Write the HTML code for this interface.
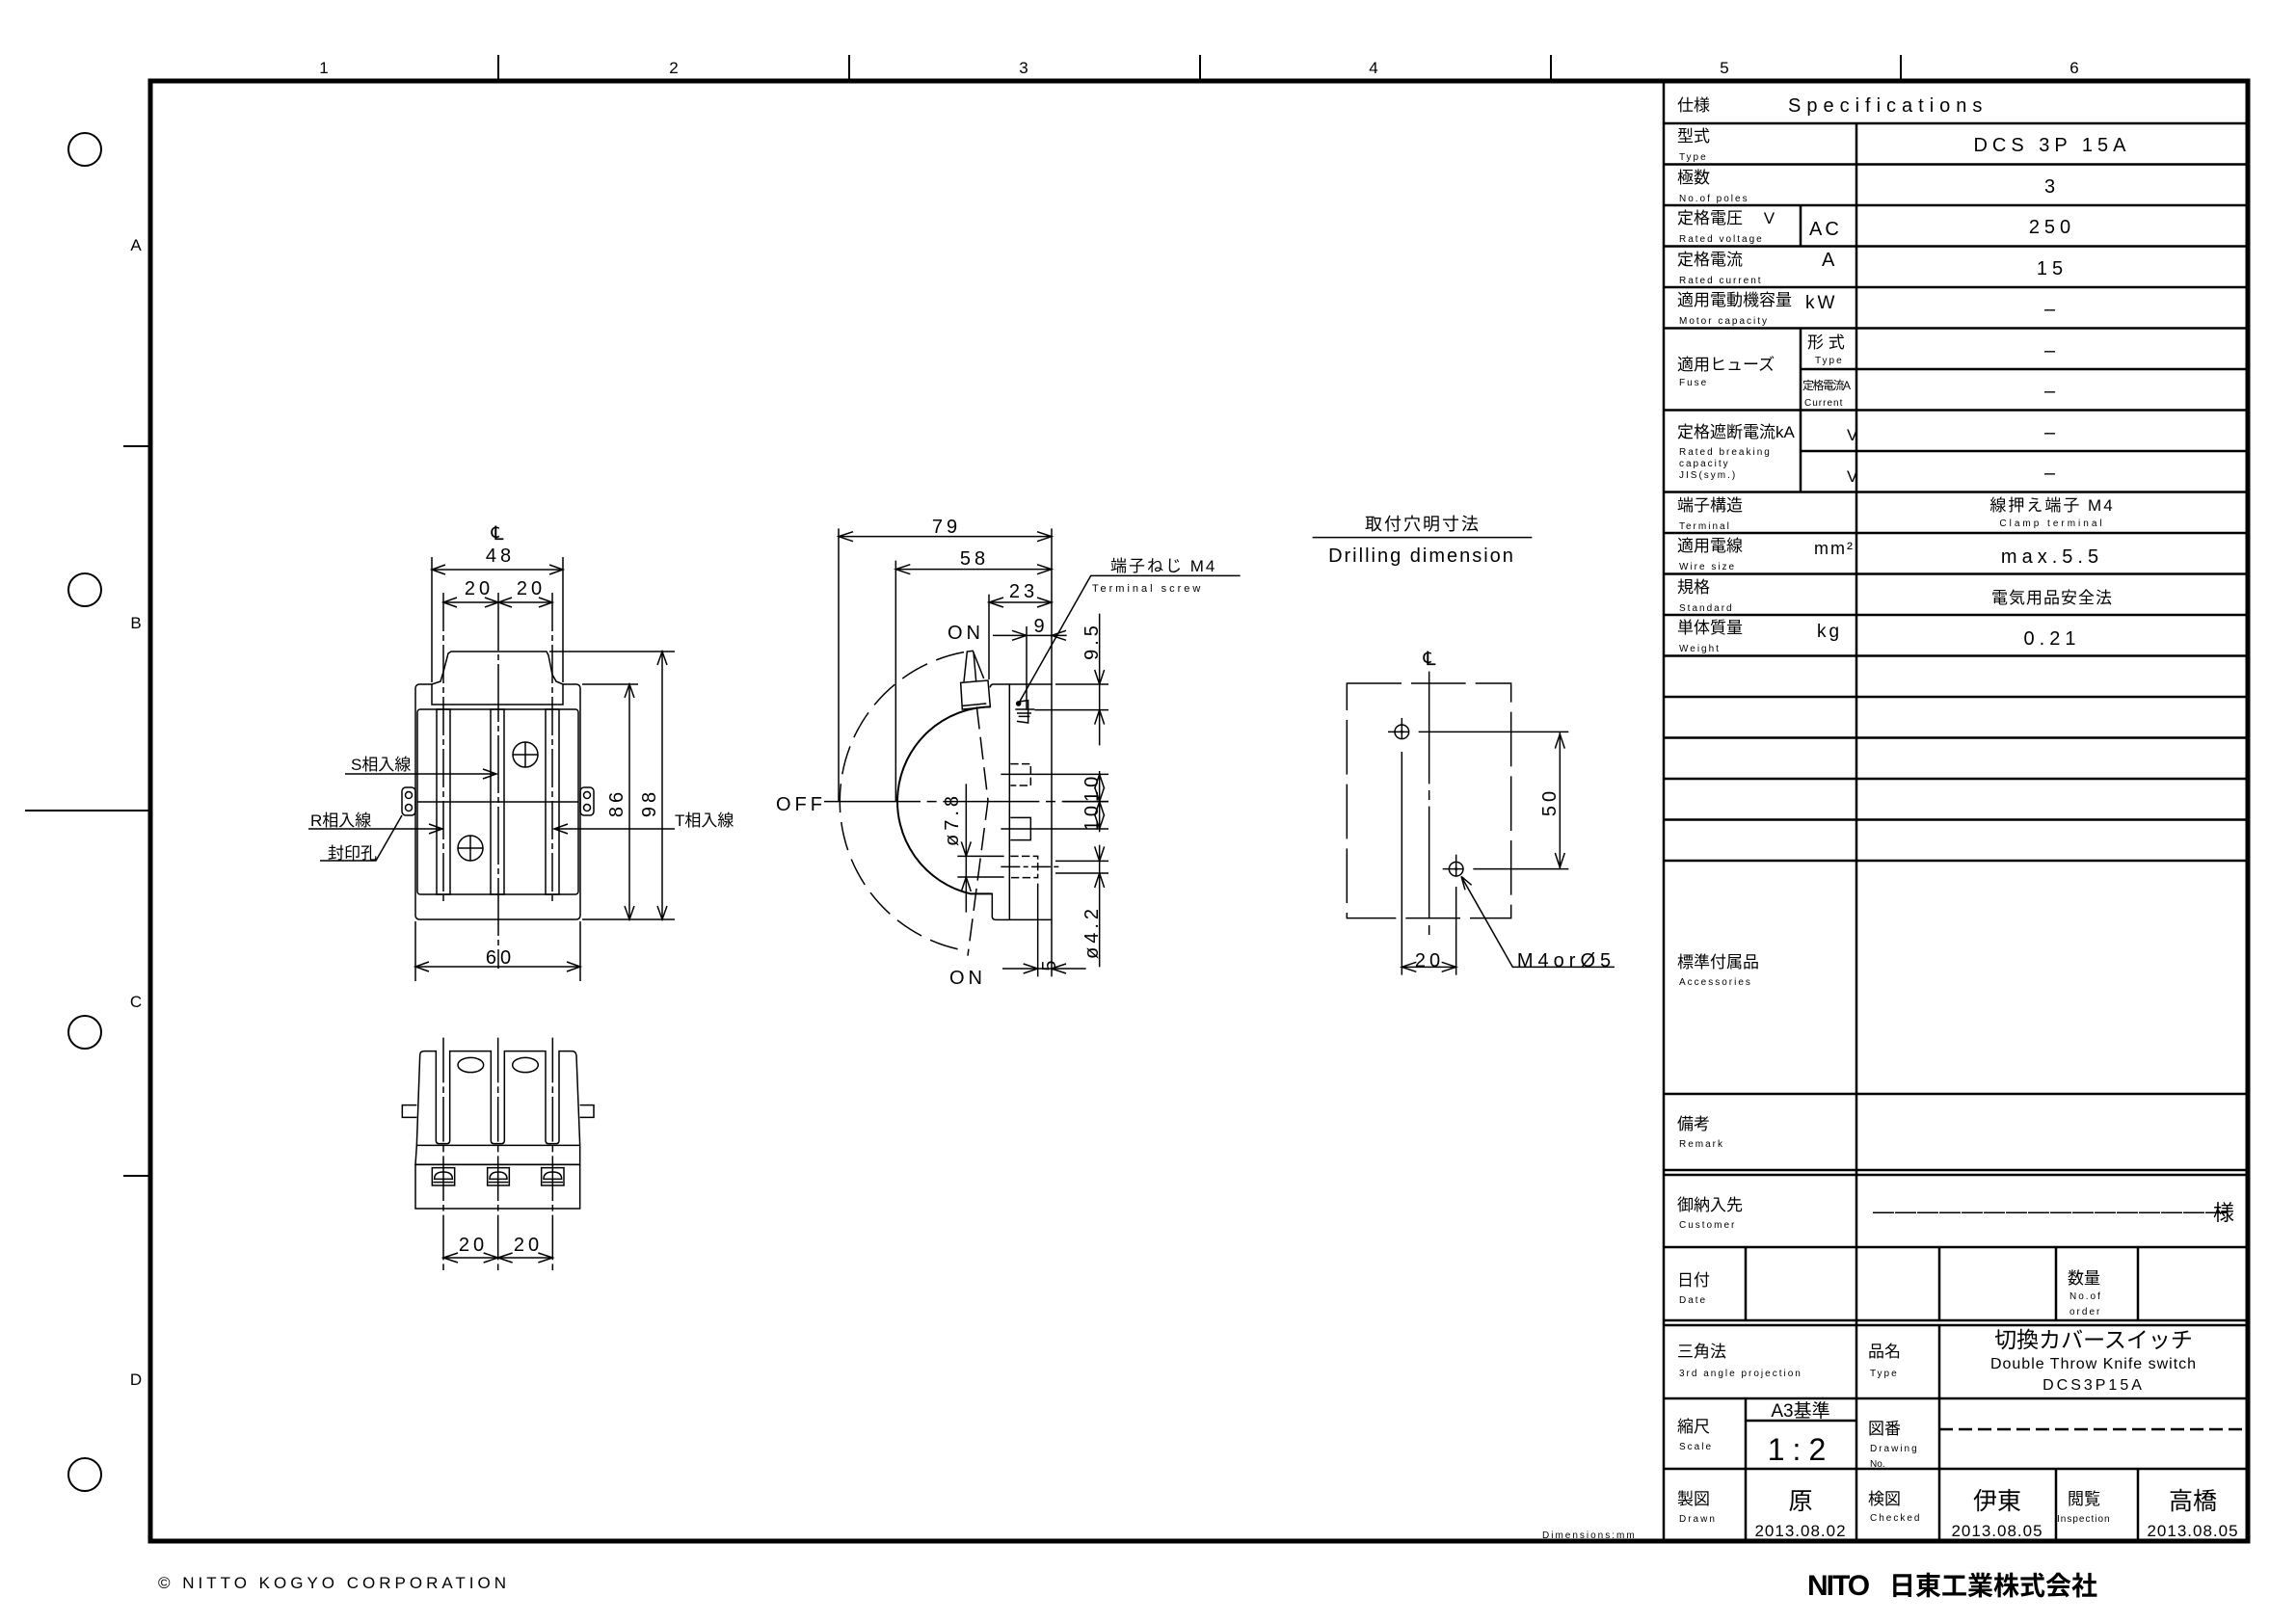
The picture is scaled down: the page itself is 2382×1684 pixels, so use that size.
<!DOCTYPE html>
<html><head><meta charset="utf-8"><style>
html,body{margin:0;padding:0;background:#fff}
svg{display:block}
text{fill:#000}
</style></head><body>
<svg width="2382" height="1684" viewBox="0 0 2382 1684" xmlns="http://www.w3.org/2000/svg" font-family="'Liberation Sans','Noto Sans CJK JP',sans-serif">
<rect width="2382" height="1684" fill="#fff"/>
<g stroke="#000" stroke-width="2">
<line x1="517" y1="57" x2="517" y2="84"/><line x1="881" y1="57" x2="881" y2="84"/><line x1="1245" y1="57" x2="1245" y2="84"/><line x1="1609" y1="57" x2="1609" y2="84"/><line x1="1972" y1="57" x2="1972" y2="84"/>
<line x1="128" y1="463" x2="156" y2="463"/><line x1="26" y1="841" x2="156" y2="841"/><line x1="128" y1="1220" x2="156" y2="1220"/>
</g>
<g font-size="17" text-anchor="middle">
<text x="336" y="76">1</text><text x="699" y="76">2</text><text x="1062" y="76">3</text><text x="1425" y="76">4</text><text x="1789" y="76">5</text><text x="2152" y="76">6</text>
<text x="141" y="260">A</text><text x="141" y="652">B</text><text x="141" y="1045">C</text><text x="141" y="1437">D</text>
</g>
<g fill="none" stroke="#000" stroke-width="2">
<circle cx="88" cy="155" r="17"/><circle cx="88" cy="612" r="17"/><circle cx="88" cy="1071" r="17"/><circle cx="88" cy="1530" r="17"/>
</g>
<rect x="156" y="84" width="2176" height="1515" fill="none" stroke="#000" stroke-width="5"/>

<g stroke="#000" stroke-width="2.5" fill="none">
<line x1="1726" y1="84" x2="1726" y2="1599"/>
<line x1="1926" y1="128" x2="1926" y2="1135"/>
<line x1="1726" y1="128" x2="2332" y2="128"/>
<line x1="1726" y1="170.5" x2="2332" y2="170.5"/>
<line x1="1726" y1="213" x2="2332" y2="213"/>
<line x1="1726" y1="255.5" x2="2332" y2="255.5"/>
<line x1="1726" y1="298" x2="2332" y2="298"/>
<line x1="1726" y1="340.5" x2="2332" y2="340.5"/>
<line x1="1868" y1="383" x2="2332" y2="383"/>
<line x1="1726" y1="425.5" x2="2332" y2="425.5"/>
<line x1="1868" y1="468" x2="2332" y2="468"/>
<line x1="1726" y1="510.5" x2="2332" y2="510.5"/>
<line x1="1726" y1="553" x2="2332" y2="553"/>
<line x1="1726" y1="595.5" x2="2332" y2="595.5"/>
<line x1="1726" y1="638" x2="2332" y2="638"/>
<line x1="1726" y1="680.5" x2="2332" y2="680.5"/>
<line x1="1726" y1="723" x2="2332" y2="723"/>
<line x1="1726" y1="765.5" x2="2332" y2="765.5"/>
<line x1="1726" y1="808" x2="2332" y2="808"/>
<line x1="1726" y1="850.5" x2="2332" y2="850.5"/>
<line x1="1726" y1="893" x2="2332" y2="893"/>
<line x1="1868" y1="213" x2="1868" y2="255.5"/>
<line x1="1868" y1="340.5" x2="1868" y2="510.5"/>
<line x1="1726" y1="1135" x2="2332" y2="1135"/>
<line x1="1726" y1="1214" x2="2332" y2="1214"/>
<line x1="1726" y1="1219" x2="2332" y2="1219"/>
<line x1="1926" y1="1135" x2="1926" y2="1599"/>
<line x1="1726" y1="1294" x2="2332" y2="1294"/>
<line x1="1726" y1="1370" x2="2332" y2="1370"/>
<line x1="1726" y1="1375" x2="2332" y2="1375"/>
<line x1="1726" y1="1451" x2="2332" y2="1451"/>
<line x1="1726" y1="1524" x2="2332" y2="1524"/>
<line x1="1811" y1="1294" x2="1811" y2="1370"/>
<line x1="2012" y1="1294" x2="2012" y2="1370"/>
<line x1="2133" y1="1294" x2="2133" y2="1370"/>
<line x1="2218" y1="1294" x2="2218" y2="1370"/>
<line x1="2012" y1="1375" x2="2012" y2="1599"/>
<line x1="1811" y1="1451" x2="1811" y2="1599"/>
<line x1="1811" y1="1474" x2="1926" y2="1474"/>
<line x1="2133" y1="1524" x2="2133" y2="1599"/>
<line x1="2218" y1="1524" x2="2218" y2="1599"/>
<line x1="2012" y1="1483" x2="2332" y2="1483" stroke-dasharray="14 6"/>
</g>
<g font-size="17">
<text x="1740" y="115">仕様</text>
<text x="1855" y="116" font-size="20" letter-spacing="6">Specifications</text>
<text x="1740" y="147">型式</text><text x="1742" y="166" font-size="10" letter-spacing="2">Type</text>
<text x="1740" y="190">極数</text><text x="1742" y="209" font-size="10" letter-spacing="2">No.of poles</text>
<text x="1740" y="232">定格電圧　 V</text><text x="1742" y="251" font-size="10" letter-spacing="2">Rated voltage</text>
<text x="1740" y="275">定格電流</text><text x="1742" y="294" font-size="10" letter-spacing="2">Rated current</text>
<text x="1740" y="317">適用電動機容量</text><text x="1742" y="336" font-size="10" letter-spacing="2">Motor capacity</text>
<text x="1740" y="384">適用ヒューズ</text><text x="1742" y="400" font-size="10" letter-spacing="2">Fuse</text>
<text x="1740" y="454">定格遮断電流kA</text>
<text x="1742" y="472" font-size="10" letter-spacing="2">Rated breaking</text>
<text x="1742" y="484" font-size="10" letter-spacing="2">capacity</text>
<text x="1742" y="496" font-size="10" letter-spacing="2">JIS(sym.)</text>
<text x="1740" y="530">端子構造</text><text x="1742" y="549" font-size="10" letter-spacing="2">Terminal</text>
<text x="1740" y="572">適用電線</text><text x="1742" y="591" font-size="10" letter-spacing="2">Wire size</text>
<text x="1740" y="615">規格</text><text x="1742" y="634" font-size="10" letter-spacing="2">Standard</text>
<text x="1740" y="657">単体質量</text><text x="1742" y="676" font-size="10" letter-spacing="2">Weight</text>
<text x="1877" y="244" font-size="20" letter-spacing="3">AC</text>
<text x="1890" y="276" font-size="20">A</text>
<text x="1873" y="320" font-size="19" letter-spacing="3">kW</text>
<text x="1875" y="361">形 式</text><text x="1883" y="377" font-size="10" letter-spacing="2">Type</text>
<text x="1870" y="404" font-size="12" letter-spacing="-1.5">定格電流A</text><text x="1872" y="421" font-size="10" letter-spacing="1">Current</text>
<text x="1916" y="457">V</text><text x="1916" y="500">V</text>
<text x="1882" y="575" font-size="18" letter-spacing="2">mm²</text>
<text x="1885" y="661" font-size="19" letter-spacing="3">kg</text>
</g>
<g font-size="20" text-anchor="middle" letter-spacing="5">
<text x="2129" y="157">DCS 3P 15A</text>
<text x="2129" y="200">3</text>
<text x="2129" y="242">250</text>
<text x="2129" y="285">15</text>
<text x="2129" y="327">–</text>
<text x="2129" y="370">–</text>
<text x="2129" y="412">–</text>
<text x="2129" y="455">–</text>
<text x="2129" y="497">–</text>
<text x="2129" y="530" font-size="17" letter-spacing="2">線押え端子 M4</text>
<text x="2129" y="546" font-size="10" letter-spacing="3">Clamp terminal</text>
<text x="2129" y="584">max.5.5</text>
<text x="2129" y="626" font-size="17" letter-spacing="1">電気用品安全法</text>
<text x="2129" y="669">0.21</text>
</g>
<g font-size="17">
<text x="1740" y="1004">標準付属品</text><text x="1742" y="1022" font-size="10" letter-spacing="2">Accessories</text>
<text x="1740" y="1172">備考</text><text x="1742" y="1190" font-size="10" letter-spacing="2">Remark</text>
<text x="1740" y="1256">御納入先</text><text x="1742" y="1274" font-size="10" letter-spacing="2">Customer</text>
<text x="1740" y="1334">日付</text><text x="1742" y="1352" font-size="10" letter-spacing="2">Date</text>
<text x="2145" y="1332">数量</text><text x="2147" y="1348" font-size="10" letter-spacing="2">No.of</text><text x="2147" y="1364" font-size="10" letter-spacing="2">order</text>
<text x="1740" y="1408">三角法</text><text x="1742" y="1428" font-size="10" letter-spacing="2">3rd angle projection</text>
<text x="1938" y="1408">品名</text><text x="1940" y="1428" font-size="10" letter-spacing="2">Type</text>
<text x="1740" y="1486">縮尺</text><text x="1742" y="1504" font-size="10" letter-spacing="2">Scale</text>
<text x="1938" y="1488">図番</text><text x="1940" y="1506" font-size="10" letter-spacing="2">Drawing</text><text x="1940" y="1522" font-size="10">No.</text>
<text x="1740" y="1561">製図</text><text x="1742" y="1579" font-size="10" letter-spacing="2">Drawn</text>
<text x="1938" y="1561">検図</text><text x="1940" y="1578" font-size="10" letter-spacing="2">Checked</text>
<text x="2145" y="1561">閲覧</text><text x="2134" y="1579" font-size="10" letter-spacing="1">Inspection</text>
</g>
<text x="1943" y="1264" font-size="22" letter-spacing="1">――――――――――――――――</text>
<text x="2296" y="1266" font-size="22">様</text>
<g text-anchor="middle">
<text x="2172" y="1398" font-size="23">切換カバースイッチ</text>
<text x="2172" y="1420" font-size="16" letter-spacing="1">Double Throw Knife switch</text>
<text x="2172" y="1442" font-size="16" letter-spacing="3">DCS3P15A</text>
<text x="1868" y="1470" font-size="19">A3基準</text>
<text x="1868" y="1515" font-size="32" letter-spacing="8">1:2</text>
<text x="1868" y="1566" font-size="25">原</text>
<text x="1868" y="1594" font-size="17" letter-spacing="1">2013.08.02</text>
<text x="2072" y="1566" font-size="25">伊東</text>
<text x="2072" y="1594" font-size="17" letter-spacing="1">2013.08.05</text>
<text x="2275" y="1566" font-size="25">高橋</text>
<text x="2275" y="1594" font-size="17" letter-spacing="1">2013.08.05</text>
</g>
<text x="1600" y="1596" font-size="10" letter-spacing="2">Dimensions:mm</text>
<text x="164" y="1648" font-size="17" letter-spacing="4">© NITTO KOGYO CORPORATION</text>
<text x="1875" y="1655" font-size="30" font-weight="bold" letter-spacing="-2">NITO</text>
<text x="1960" y="1655" font-size="27" font-weight="bold">日東工業株式会社</text>

<!-- FRONT VIEW -->
<g stroke="#000" stroke-width="1.5" fill="none">
<rect x="431" y="710" width="171" height="244" rx="4"/>
<rect x="433" y="736" width="167" height="192" rx="3"/>
<path d="M448,731 L448,710 L457,707 L460,697 L465,678 L468,676 L567,676 L569,680 L573,700 L577,707 L584,710 L584,731 Z" fill="#fff"/>
<rect x="453" y="736" width="14" height="192"/><rect x="509" y="736" width="14" height="192"/><rect x="566" y="736" width="14" height="192"/>
<line x1="433" y1="832" x2="600" y2="832"/>
<line x1="460" y1="615" x2="460" y2="935" stroke-dasharray="40 4 6 4"/>
<line x1="573" y1="615" x2="573" y2="935" stroke-dasharray="40 4 6 4"/>
<line x1="517" y1="615" x2="517" y2="1005" stroke-dasharray="60 4 6 4"/>
<circle cx="545" cy="783" r="13"/><line x1="532" y1="783" x2="558" y2="783"/><line x1="545" y1="770" x2="545" y2="796"/>
<circle cx="488" cy="880" r="13"/><line x1="475" y1="880" x2="501" y2="880"/><line x1="488" y1="867" x2="488" y2="893"/>
<rect x="417" y="817" width="14" height="29" rx="4"/><circle cx="424" cy="825" r="3.5"/><circle cx="424" cy="838" r="3.5"/>
<rect x="602" y="817" width="14" height="29" rx="4"/><circle cx="609" cy="825" r="3.5"/><circle cx="609" cy="838" r="3.5"/>
<line x1="448" y1="578" x2="448" y2="708"/><line x1="584" y1="578" x2="584" y2="708"/>
<line x1="448" y1="591" x2="584" y2="591"/>
<path d="M462,586 L448,591 L462,596 M570,586 L584,591 L570,596"/>
<line x1="460" y1="625" x2="573" y2="625"/>
<path d="M474,620 L460,625 L474,630 M503,620 L517,625 L503,630 M531,620 L517,625 L531,630 M559,620 L573,625 L559,630"/>
<line x1="570" y1="676" x2="700" y2="676"/><line x1="604" y1="710" x2="662" y2="710"/><line x1="604" y1="954" x2="700" y2="954"/>
<line x1="653" y1="710" x2="653" y2="954"/><path d="M648,724 L653,710 L658,724 M648,940 L653,954 L658,940"/>
<line x1="687" y1="676" x2="687" y2="954"/><path d="M682,690 L687,676 L692,690 M682,940 L687,954 L692,940"/>
<line x1="431" y1="956" x2="431" y2="1018"/><line x1="602" y1="956" x2="602" y2="1018"/>
<line x1="431" y1="1003" x2="602" y2="1003"/><path d="M445,998 L431,1003 L445,1008 M588,998 L602,1003 L588,1008"/>
<line x1="358" y1="803" x2="515" y2="803"/><path d="M501,798 L515,803 L501,808"/>
<line x1="320" y1="860" x2="459" y2="860"/><path d="M445,855 L459,860 L445,865"/>
<line x1="575" y1="860" x2="700" y2="860"/><path d="M589,855 L575,860 L589,865"/>
<path d="M332,893 L390,893 L417,846"/>
</g>
<g font-size="20" text-anchor="middle" letter-spacing="4">
<text x="518" y="560">℄</text>
<text x="519" y="583">48</text>
<text x="497" y="617">20</text><text x="551" y="617">20</text>
<text x="519" y="1000">60</text>
<text transform="translate(646,833) rotate(-90)">86</text>
<text transform="translate(680,833) rotate(-90)">98</text>
</g>
<g font-size="17">
<text x="364" y="799">S相入線</text>
<text x="322" y="857">R相入線</text>
<text x="700" y="857">T相入線</text>
<text x="340" y="891">封印孔</text>
</g>

<!-- BOTTOM VIEW -->
<g transform="translate(400,1070) scale(0.33333)" stroke="#000" stroke-width="4.5" fill="none">
<path d="M97,355 L107,75 Q107,62 120,62 L157,62 L157,340 Q157,350 167,350 L190,350 Q200,350 200,340 L200,62 L328,62 L328,340 Q328,350 338,350 L360,350 Q370,350 370,340 L370,62 L498,62 L498,340 Q498,350 508,350 L530,350 Q540,350 540,340 L540,62 L580,62 Q592,62 594,75 L605,355"/>
<path d="M97,355 L605,355 L605,415 L93,415 Z"/>
<rect x="93" y="415" width="512" height="137"/>
<path d="M97,230 L52,230 L52,268 L97,268 M605,230 L648,230 L648,268 L605,268"/>
<ellipse cx="265" cy="105" rx="40" ry="23"/><ellipse cx="435" cy="105" rx="40" ry="23"/>
<rect x="145" y="425" width="70" height="55"/><rect x="317" y="425" width="68" height="55"/><rect x="485" y="425" width="70" height="55"/>
<path d="M152,460 Q152,438 180,438 Q208,438 208,460 Z M324,460 Q324,438 351,438 Q378,438 378,460 Z M492,460 Q492,438 520,438 Q548,438 548,460 Z"/>
<path d="M148,470 L212,470 M320,470 L382,470 M488,470 L552,470"/>
<line x1="180" y1="20" x2="180" y2="745" stroke-dasharray="140 12 20 12"/>
<line x1="350" y1="20" x2="350" y2="745" stroke-dasharray="140 12 20 12"/>
<line x1="520" y1="20" x2="520" y2="745" stroke-dasharray="140 12 20 12"/>
<line x1="180" y1="705" x2="520" y2="705"/>
<path d="M225,690 L180,705 L225,720 M305,690 L350,705 L305,720 M395,690 L350,705 L395,720 M475,690 L520,705 L475,720"/>
</g>
<g font-size="20" text-anchor="middle" letter-spacing="4">
<text x="491" y="1298">20</text><text x="548" y="1298">20</text>
</g>

<!-- SIDE VIEW -->
<g transform="translate(790,520) scale(0.33333)" stroke="#000" stroke-width="4.5" fill="none">
<line x1="240" y1="85" x2="240" y2="935"/><line x1="903" y1="85" x2="903" y2="570"/>
<line x1="240" y1="110" x2="903" y2="110"/><path d="M285,95 L240,110 L285,125 M858,95 L903,110 L858,125"/>
<line x1="418" y1="185" x2="418" y2="935"/>
<line x1="418" y1="212" x2="903" y2="212"/><path d="M463,197 L418,212 L463,227 M858,197 L903,212 L858,227"/>
<line x1="708" y1="290" x2="708" y2="555"/>
<line x1="708" y1="315" x2="903" y2="315"/><path d="M753,300 L708,315 L753,330 M858,300 L903,315 L858,330"/>
<line x1="825" y1="390" x2="825" y2="650"/>
<line x1="720" y1="418" x2="950" y2="418"/><path d="M780,403 L825,418 L780,433 M948,403 L903,418 L948,433"/>
<line x1="1052" y1="350" x2="1052" y2="760"/>
<line x1="915" y1="570" x2="1080" y2="570"/><line x1="850" y1="650" x2="1080" y2="650"/>
<path d="M1037,525 L1052,570 L1067,525 M1037,695 L1052,650 L1067,695"/>
<line x1="850" y1="850" x2="1080" y2="850"/><line x1="940" y1="935" x2="1080" y2="935"/><line x1="850" y1="1020" x2="1080" y2="1020"/>
<line x1="1052" y1="840" x2="1052" y2="1030"/>
<path d="M1037,895 L1052,850 L1067,895 M1037,890 L1052,935 L1067,890 M1037,980 L1052,935 L1067,980 M1037,975 L1052,1020 L1067,975"/>
<line x1="915" y1="1120" x2="1080" y2="1120"/><line x1="915" y1="1158" x2="1080" y2="1158"/>
<line x1="1052" y1="1070" x2="1052" y2="1450"/>
<path d="M1037,1075 L1052,1120 L1067,1075 M1037,1203 L1052,1158 L1067,1203"/>
<rect x="772" y="570" width="131" height="733"/>
<path d="M772,570 L720,570 Q712,572 712,580 M718,1220 L718,1295 Q720,1303 730,1303 L772,1303"/>
<path d="M713,640 A295,295 0 0 0 650,1222 L718,1222" stroke-width="6"/>
<path d="M620,565 L705,558 L712,640 L625,648 Z"/><path d="M700,630 L625,637"/>
<path d="M630,562 L640,468 L658,466 L692,552"/><line x1="660" y1="470" x2="668" y2="560"/>
<path d="M630,470 A472,472 0 0 0 640,1400" stroke-dasharray="90 30"/>
<path d="M670,640 L705,932 L642,1415" stroke-dasharray="70 25"/>
<line x1="195" y1="935" x2="1080" y2="935" stroke-dasharray="300 20 30 20"/>
<path d="M775,818 L838,818 L838,885 L775,885" stroke-dasharray="25 10"/>
<path d="M775,985 L838,985 L838,1055 L775,1055"/>
<path d="M775,1105 L860,1105 L860,1172 L775,1172" stroke-dasharray="25 10"/>
<line x1="745" y1="850" x2="850" y2="850"/><line x1="745" y1="1020" x2="850" y2="1020"/>
<line x1="745" y1="1138" x2="925" y2="1138" stroke-dasharray="60 10 15 10"/>
<line x1="610" y1="1105" x2="755" y2="1105"/><line x1="610" y1="1170" x2="755" y2="1170"/>
<line x1="637" y1="880" x2="637" y2="1280"/><path d="M622,1060 L637,1105 L652,1060 M622,1215 L637,1170 L652,1215"/>
<line x1="860" y1="1190" x2="860" y2="1480"/><line x1="903" y1="1303" x2="903" y2="1480"/>
<line x1="750" y1="1455" x2="1010" y2="1455"/><path d="M815,1440 L860,1455 L815,1470 M948,1440 L903,1455 L948,1470"/>
<path d="M795,625 L830,620 L830,690 L795,685 M790,648 L850,648 M795,660 L840,660 M800,670 L835,670"/>
<path d="M800,630 L1025,232 L1490,232"/>
<circle cx="800" cy="630" r="6" fill="#000"/>
</g>
<g font-size="20" text-anchor="middle" letter-spacing="4">
<text x="982" y="553">79</text>
<text x="1011" y="586">58</text>
<text x="1062" y="620">23</text>
<text x="1080" y="656">9</text>
<text x="1002" y="663">ON</text>
<text x="1004" y="1021">ON</text>
<text x="805" y="841" text-anchor="start">OFF</text>
<text transform="translate(1139,665) rotate(-90)">9.5</text>
<text transform="translate(1139,832) rotate(-90)">1010</text>
<text transform="translate(1139,967) rotate(-90)">ø4.2</text>
<text transform="translate(994,850) rotate(-90)">ø7.8</text>
<text transform="translate(1095,1000) rotate(-90)">5</text>
</g>
<text x="1152" y="593" font-size="17" letter-spacing="2">端子ねじ M4</text>
<text x="1133" y="614" font-size="11" letter-spacing="3">Terminal screw</text>

<!-- DRILLING -->
<g transform="translate(1340,510) scale(0.33333)" stroke="#000" stroke-width="4.5" fill="none">
<line x1="65" y1="143" x2="748" y2="143"/>
<rect x="172" y="597" width="511" height="731" stroke-dasharray="170 30"/>
<line x1="428" y1="560" x2="428" y2="1380" stroke-dasharray="350 20 30 20"/>
<circle cx="343" cy="748" r="22"/><circle cx="343" cy="748" r="2" fill="#000"/>
<line x1="300" y1="748" x2="365" y2="748"/><line x1="343" y1="705" x2="343" y2="770"/>
<circle cx="512" cy="1175" r="22"/><circle cx="512" cy="1175" r="2" fill="#000"/>
<line x1="470" y1="1175" x2="535" y2="1175"/><line x1="512" y1="1130" x2="512" y2="1198"/>
<line x1="395" y1="748" x2="862" y2="748"/><line x1="565" y1="1175" x2="862" y2="1175"/>
<line x1="835" y1="748" x2="835" y2="1175"/><path d="M820,800 L835,755 L850,800 M820,1125 L835,1170 L850,1125"/>
<line x1="343" y1="810" x2="343" y2="1505"/><line x1="512" y1="1230" x2="512" y2="1505"/>
<line x1="343" y1="1480" x2="512" y2="1480"/><path d="M388,1465 L343,1480 L388,1495 M467,1465 L512,1480 L467,1495"/>
<path d="M528,1198 L688,1480 L1005,1480 M528,1198 L540,1240 M528,1198 L560,1225"/>
</g>
<g text-anchor="middle">
<text x="1476" y="550" font-size="18" letter-spacing="2">取付穴明寸法</text>
<text x="1475" y="583" font-size="20" letter-spacing="2">Drilling dimension</text>
<text x="1483" y="690" font-size="20">℄</text>
<text x="1483" y="1003" font-size="20" letter-spacing="4">20</text>
<text transform="translate(1614,832) rotate(-90)" font-size="20" letter-spacing="4">50</text>
<text x="1625" y="1003" font-size="20" letter-spacing="5">M4orØ5</text>
</g>
</svg>
</body></html>
